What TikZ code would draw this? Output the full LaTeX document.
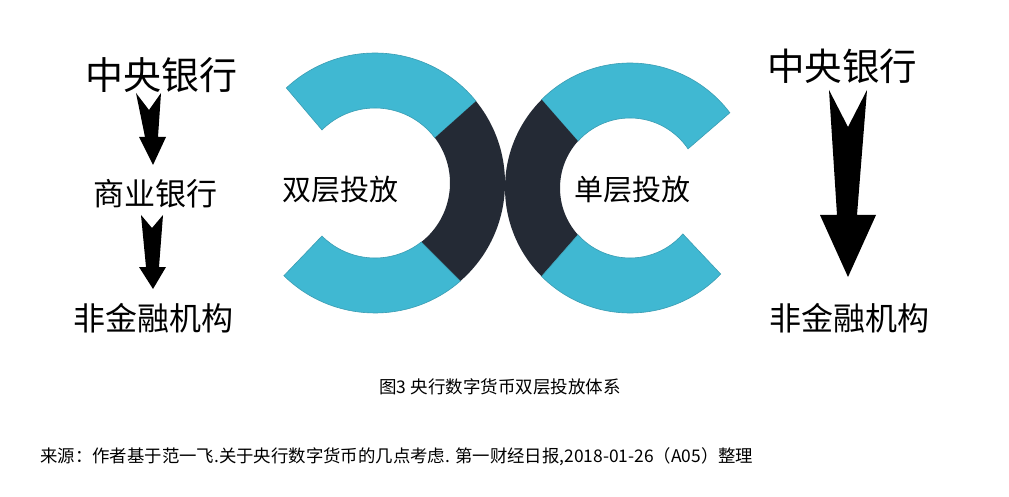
\documentclass[tikz,border=0pt]{standalone}
\usepackage{fontspec}
\newfontfamily\cjk{Noto Sans CJK SC}
\usetikzlibrary{calc}
\definecolor{teal1}{HTML}{40B8D2}
\definecolor{tealedge}{HTML}{3A9DB3}
\definecolor{darkseg}{HTML}{242A35}
\tikzset{
  lbl/.style={font=\cjk, inner sep=0pt, anchor=center},
  tealseg/.style={fill=teal1, draw=tealedge, line width=0.6pt},
  darksegst/.style={fill=darkseg},
  blockarrow/.style={fill=black}
}
\newcommand\ringseg[9]{%
  \path[#9] (#1,#2) ++(#5:#3) arc[start angle=#5,end angle=#6,radius=#3]
    -- ($(#1,#2)+(#8:#4)$) arc[start angle=#8,end angle=#7,radius=#4] -- cycle;}
\begin{document}
\begin{tikzpicture}[x=1pt,y=-1pt]
\useasboundingbox[fill=white] (0,0) rectangle (1009,497);
% left ring
\ringseg{375}{183}{130}{75}{-133}{-39}{-135}{-37}{tealseg}
\ringseg{375}{183}{130}{75}{-39}{49}{-37}{52}{darksegst}
\ringseg{375}{183}{130}{75}{49}{134.5}{52}{135}{tealseg}
% right ring
\ringseg{630}{188}{125}{70}{-37}{-135}{-34}{-138}{tealseg}
\ringseg{630}{188}{125}{70}{-135}{-225}{-138}{-222}{darksegst}
\ringseg{630}{188}{125}{70}{-225}{-316.5}{-222}{-319}{tealseg}
% texts
\node[lbl, font=\cjk\fontsize{38}{40}\selectfont] (cbL) at (161,75) {中央银行};
\node[lbl, font=\cjk\fontsize{31}{33}\selectfont] (cmb) at (155,194) {商业银行};
\node[lbl, font=\cjk\fontsize{32}{34}\selectfont] (nfL) at (153,318) {非金融机构};
\node[lbl, font=\cjk\fontsize{37.5}{40}\selectfont] (cbR) at (842,66) {中央银行};
\node[lbl, font=\cjk\fontsize{32}{34}\selectfont] (nfR) at (849,318) {非金融机构};
\node[lbl, font=\cjk\fontsize{29}{31}\selectfont] (two) at (340,190) {双层投放};
\node[lbl, font=\cjk\fontsize{29}{31}\selectfont] (one) at (632,190) {单层投放};
\node[lbl, font=\cjk\fontsize{17.5}{19}\selectfont] (cap) at (500,387) {图3 央行数字货币双层投放体系};
\node[lbl, font=\cjk\fontsize{17.4}{19}\selectfont, anchor=west] (src) at (40,457) {来源：作者基于范一飞.关于央行数字货币的几点考虑. 第一财经日报,2018-01-26（A05）整理};
% arrows
\fill[blockarrow] (136,93) -- (149,110) -- (161,93) -- (158,137) -- (166,137) -- (153,165) -- (139,137) -- (145,137) -- cycle;
\fill[blockarrow] (141,215) -- (152,228) -- (163,215) -- (159,267) -- (166,267) -- (153,289) -- (139,267) -- (146,267) -- cycle;
\fill[blockarrow] (829,90) -- (848,127) -- (867,90) -- (857,215) -- (876,215) -- (848,277) -- (820,215) -- (837,215) -- cycle;
\end{tikzpicture}
\end{document}
